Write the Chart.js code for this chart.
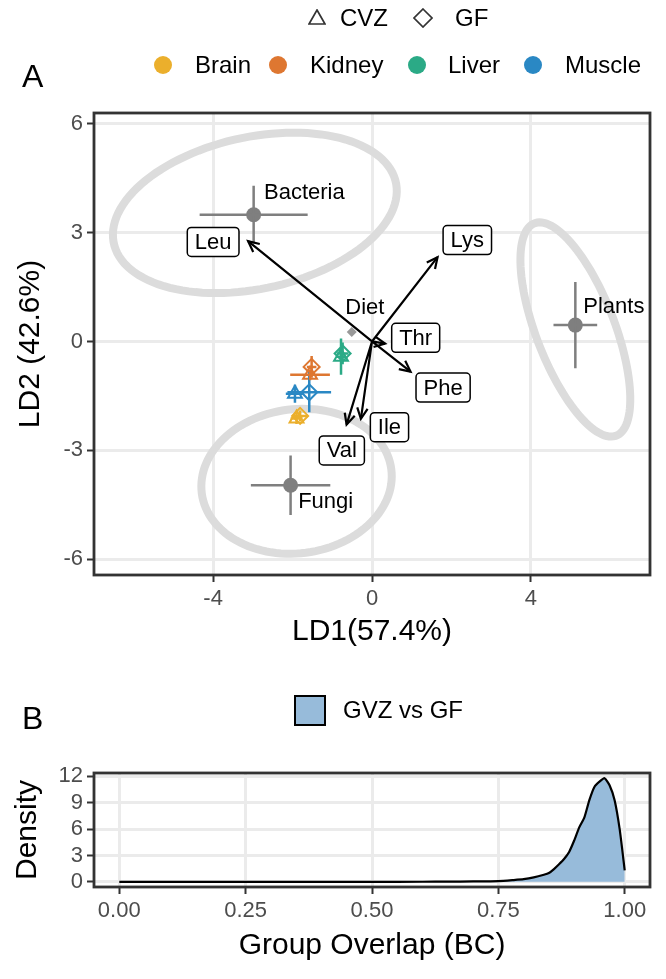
<!DOCTYPE html>
<html>
<head>
<meta charset="utf-8">
<script src="https://cdn.jsdelivr.net/npm/chart.js@4.4.1/dist/chart.umd.min.js"></script>
<style>
  html, body { margin: 0; padding: 0; background: #fff; }
  body { width: 666px; height: 979px; position: relative; overflow: hidden; font-family: 'Liberation Sans', Arial, sans-serif; }
  canvas { position: absolute; left: 0; }
  #chartA { top: 0; }
  #chartB { top: 660px; }
  .lbl { position: absolute; font-size: 24px; line-height: 24px; color: #000; white-space: nowrap; }
  .panel { position: absolute; font-size: 32px; line-height: 32px; color: #000; }
  .dot { position: absolute; width: 18px; height: 18px; border-radius: 50%; }
  svg { position: absolute; }
</style>
</head>
<body>
<canvas id="chartA" width="666" height="660"></canvas>
<canvas id="chartB" width="666" height="319"></canvas>

<!-- legende pannello A -->
<svg style="left:308px; top:9px" width="18" height="16"><polygon points="9,1 17,15 1,15" fill="none" stroke="#333" stroke-width="1.7"/></svg>
<div class="lbl" style="left:340px; top:6px">CVZ</div>
<svg style="left:413px; top:8px" width="20" height="20"><polygon points="10,1 19,10 10,19 1,10" fill="none" stroke="#333" stroke-width="1.7"/></svg>
<div class="lbl" style="left:455px; top:6px">GF</div>

<div class="dot" style="left:154px; top:56px; background:#EBAF2C"></div>
<div class="lbl" style="left:195px; top:53px">Brain</div>
<div class="dot" style="left:269px; top:56px; background:#DE7731"></div>
<div class="lbl" style="left:310px; top:53px">Kidney</div>
<div class="dot" style="left:408px; top:56px; background:#2BAA86"></div>
<div class="lbl" style="left:448px; top:53px">Liver</div>
<div class="dot" style="left:524px; top:56px; background:#2A88C4"></div>
<div class="lbl" style="left:565px; top:53px">Muscle</div>

<div class="panel" style="left:22px; top:60px">A</div>
<div class="panel" style="left:22px; top:702px">B</div>

<!-- legenda pannello B -->
<div style="position:absolute; left:294px; top:695px; width:28px; height:27px; background:#97BBDA; border:2px solid #000;"></div>
<div class="lbl" style="left:343px; top:698px">GVZ vs GF</div>

<script>
// ---- dati pannello A (LDA) ----
const ld1Ticks = [-4, 0, 4];
const ld2Ticks = [-6, -3, 0, 3, 6];

// medie dei gruppi di dieta con barre d'errore
const dietNames = ['Bacteria', 'Fungi', 'Plants'];
const dietX = [-2.98, -2.05, 5.12];
const dietY = [3.49, -3.96, 0.45];
const dietXErr = [1.36, 1.0, 0.55];
const dietYErr = [0.8, 0.82, 1.19];
const dietLabelX = [-2.72, -1.86, 5.32];
const dietLabelY = [4.09, -4.42, 0.95];

// ellissi di confidenza (centro, semiassi, rotazione in gradi)
const ellCx = [-2.95, -1.90, 5.12];
const ellCy = [3.54, -3.85, 0.33];
const ellA = [3.65, 2.41, 3.1];
const ellB = [2.08, 1.98, 1.0];
const ellAngle = [14.3, 10.4, -71];

// piccolo centroide "Diet"
const centroidX = [-0.51];
const centroidY = [0.26];
const centroidLabelX = [-0.18];
const centroidLabelY = [0.92];

// vettori degli amminoacidi
const aaNames = ['Leu', 'Lys', 'Thr', 'Phe', 'Ile', 'Val'];
const aaX = [-3.12, 1.65, 0.33, 0.97, -0.28, -0.64];
const aaY = [2.76, 2.32, -0.06, -0.83, -2.13, -2.29];
const aaLabelX = [-4.0, 2.40, 1.10, 1.79, 0.44, -0.76];
const aaLabelY = [2.74, 2.79, 0.10, -1.27, -2.36, -3.0];

// tessuti: CVZ (triangolo) e GF (rombo)
const tissues = ['Brain', 'Kidney', 'Liver', 'Muscle'];
const cvzX = [-1.90, -1.56, -0.78, -1.94];
const cvzY = [-2.12, -0.92, -0.42, -1.44];
const cvzXErr = [0.15, 0.5, 0.12, 0.23];
const cvzYErr = [0.15, 0.15, 0.5, 0.25];
const gfX = [-1.81, -1.52, -0.74, -1.58];
const gfY = [-2.05, -0.70, -0.33, -1.40];
const gfXErr = [0.2, 0.12, 0.15, 0.55];
const gfYErr = [0.15, 0.3, 0.3, 0.55];

// ---- dati pannello B (densita') ----
const bcTicks = [0, 0.25, 0.5, 0.75, 1];
const densTicks = [0, 3, 6, 9, 12];
const densX = [0, 0.1, 0.2, 0.3, 0.4, 0.5, 0.6, 0.65, 0.7, 0.75, 0.78, 0.8, 0.82, 0.84, 0.85, 0.86, 0.87, 0.88, 0.89, 0.9, 0.91, 0.92, 0.93, 0.94, 0.95, 0.96, 0.97, 0.98, 0.99, 1.0];
const densY = [0, 0, 0, 0, 0, 0, 0.01, 0.02, 0.04, 0.08, 0.2, 0.3, 0.5, 0.8, 1.0, 1.45, 2.0, 2.6, 3.4, 4.7, 6.2, 7.3, 9.3, 10.8, 11.4, 11.8, 11.0, 9.3, 6.0, 1.3];

// ---- stile ----
const FONT = "'Liberation Sans', Arial, sans-serif";
const tissueColors = ['#EBAF2C', '#DE7731', '#2BAA86', '#2A88C4'];
const meanGrey = '#7F7F7F';

// segmenti delle barre d'errore, separati da null
function errSegments(xs, ys, xe, ye, idx) {
  const out = [];
  idx.forEach(i => {
    out.push({ x: xs[i] - xe[i], y: ys[i] }, { x: xs[i] + xe[i], y: ys[i] }, { x: xs[i], y: null });
    out.push({ x: xs[i], y: ys[i] - ye[i] }, { x: xs[i], y: ys[i] + ye[i] }, { x: xs[i], y: null });
  });
  return out;
}

const datasetsA = [];
// barre d'errore delle diete
datasetsA.push({
  data: errSegments(dietX, dietY, dietXErr, dietYErr, dietX.map((_, i) => i)),
  showLine: true, spanGaps: false, borderColor: meanGrey, borderWidth: 2.5, pointRadius: 0
});
// barre d'errore dei tessuti
tissues.forEach((t, i) => {
  const segs = errSegments(cvzX, cvzY, cvzXErr, cvzYErr, [i]).concat(errSegments(gfX, gfY, gfXErr, gfYErr, [i]));
  datasetsA.push({ data: segs, showLine: true, spanGaps: false, borderColor: tissueColors[i], borderWidth: 2.5, pointRadius: 0 });
});
// vettori
const arrowSegs = [];
aaX.forEach((v, i) => { arrowSegs.push({ x: 0, y: 0 }, { x: v, y: aaY[i] }, { x: 0, y: null }); });
datasetsA.push({ data: arrowSegs, showLine: true, spanGaps: false, borderColor: '#000', borderWidth: 2.2, pointRadius: 0 });
// punti
datasetsA.push({
  data: cvzX.map((v, i) => ({ x: v, y: cvzY[i] })),
  pointStyle: 'triangle', pointRadius: 8, pointBorderWidth: 2,
  pointBorderColor: tissueColors, pointBackgroundColor: 'rgba(0,0,0,0)'
});
datasetsA.push({
  data: gfX.map((v, i) => ({ x: v, y: gfY[i] })),
  pointStyle: 'rectRot', pointRadius: 8, pointBorderWidth: 2,
  pointBorderColor: tissueColors, pointBackgroundColor: 'rgba(0,0,0,0)'
});
datasetsA.push({
  data: dietX.map((v, i) => ({ x: v, y: dietY[i] })),
  pointStyle: 'circle', pointRadius: 7.5, pointBorderWidth: 0, pointBackgroundColor: meanGrey
});
datasetsA.push({
  data: centroidX.map((v, i) => ({ x: v, y: centroidY[i] })),
  pointStyle: 'rectRot', pointRadius: 5, pointBorderWidth: 0, pointBackgroundColor: '#999'
});

const ellipsePlugin = {
  id: 'ellipses',
  beforeDatasetsDraw(chart) {
    const { ctx, chartArea: a, scales: { x, y } } = chart;
    ctx.save();
    ctx.beginPath();
    ctx.rect(a.left, a.top, a.right - a.left, a.bottom - a.top);
    ctx.clip();
    ctx.strokeStyle = '#DCDCDC';
    ctx.lineWidth = 8;
    ellCx.forEach((cx, i) => {
      const t = ellAngle[i] * Math.PI / 180;
      ctx.beginPath();
      for (let k = 0; k <= 120; k++) {
        const u = k / 120 * 2 * Math.PI;
        const dx = ellA[i] * Math.cos(u), dy = ellB[i] * Math.sin(u);
        const px = x.getPixelForValue(cx + dx * Math.cos(t) - dy * Math.sin(t));
        const py = y.getPixelForValue(ellCy[i] + dx * Math.sin(t) + dy * Math.cos(t));
        if (k) ctx.lineTo(px, py); else ctx.moveTo(px, py);
      }
      ctx.closePath();
      ctx.stroke();
    });
    ctx.restore();
  }
};

const labelPlugin = {
  id: 'labelsA',
  afterDatasetsDraw(chart) {
    const { ctx, scales: { x, y } } = chart;
    ctx.save();
    // punte delle frecce
    ctx.strokeStyle = '#000';
    ctx.lineWidth = 2.2;
    const x0 = x.getPixelForValue(0), y0 = y.getPixelForValue(0);
    aaX.forEach((v, i) => {
      const x1 = x.getPixelForValue(v), y1 = y.getPixelForValue(aaY[i]);
      const ang = Math.atan2(y1 - y0, x1 - x0), L = 12;
      ctx.beginPath();
      ctx.moveTo(x1 - L * Math.cos(ang - 0.45), y1 - L * Math.sin(ang - 0.45));
      ctx.lineTo(x1, y1);
      ctx.lineTo(x1 - L * Math.cos(ang + 0.45), y1 - L * Math.sin(ang + 0.45));
      ctx.stroke();
    });
    // etichette delle diete
    ctx.font = '22px ' + FONT;
    ctx.fillStyle = '#000';
    ctx.textBaseline = 'middle';
    ctx.textAlign = 'left';
    dietNames.forEach((n, i) => {
      ctx.fillText(n, x.getPixelForValue(dietLabelX[i]), y.getPixelForValue(dietLabelY[i]));
    });
    ctx.textAlign = 'center';
    ctx.fillText('Diet', x.getPixelForValue(centroidLabelX[0]), y.getPixelForValue(centroidLabelY[0]));
    // etichette con riquadro
    aaNames.forEach((n, i) => {
      const cx = x.getPixelForValue(aaLabelX[i]), cy = y.getPixelForValue(aaLabelY[i]);
      const w = ctx.measureText(n).width + 15, h = 29;
      ctx.beginPath();
      ctx.roundRect(cx - w / 2, cy - h / 2, w, h, 4);
      ctx.fillStyle = '#fff';
      ctx.fill();
      ctx.lineWidth = 1.5;
      ctx.strokeStyle = '#000';
      ctx.stroke();
      ctx.fillStyle = '#000';
      ctx.fillText(n, cx, cy + 1);
    });
    ctx.restore();
  }
};

const framePlugin = {
  id: 'frame',
  afterDraw(chart) {
    const { ctx, chartArea: a } = chart;
    ctx.save();
    ctx.strokeStyle = '#333';
    ctx.lineWidth = 2.8;
    ctx.strokeRect(a.left, a.top, a.right - a.left, a.bottom - a.top);
    ctx.restore();
  }
};

function axisOpts(min, max, ticks, fmt, title, fit, titlePad) {
  return {
    type: 'linear', min: min, max: max,
    afterBuildTicks: s => { s.ticks = ticks.map(v => ({ value: v })); },
    afterFit: fit,
    grid: { color: '#EBEBEB', lineWidth: 3, tickColor: '#333', tickLength: 7, tickWidth: 2 },
    border: { display: false },
    ticks: { color: '#4D4D4D', font: { size: 22, family: FONT }, padding: 4, maxRotation: 0, autoSkip: false, callback: fmt },
    title: { display: true, text: title, color: '#000', font: { size: 30, family: FONT }, padding: titlePad }
  };
}

new Chart(document.getElementById('chartA'), {
  type: 'scatter',
  data: { datasets: datasetsA },
  options: {
    responsive: false,
    animation: false,
    layout: { padding: { top: 113, right: 16, left: 0, bottom: 0 } },
    plugins: { legend: { display: false }, tooltip: { enabled: false } },
    scales: {
      x: axisOpts(-7, 7, ld1Ticks, v => String(v), 'LD1(57.4%)', s => { s.height = 85; }, { top: 0, bottom: 10 }),
      y: axisOpts(-6.43, 6.29, ld2Ticks, v => String(v), 'LD2 (42.6%)', s => { s.width = 94; }, { top: 13, bottom: 0 })
    }
  },
  plugins: [ellipsePlugin, labelPlugin, framePlugin]
});

new Chart(document.getElementById('chartB'), {
  type: 'line',
  data: {
    datasets: [{
      data: densX.map((v, i) => ({ x: v, y: densY[i] })),
      borderColor: '#000', borderWidth: 2.2, backgroundColor: '#97BBDA',
      fill: 'origin', pointRadius: 0, tension: 0.2
    }]
  },
  options: {
    responsive: false,
    animation: false,
    layout: { padding: { top: 113, right: 16, left: 0, bottom: 0 } },
    plugins: { legend: { display: false }, tooltip: { enabled: false } },
    scales: {
      x: axisOpts(-0.05, 1.05, bcTicks, v => v.toFixed(2), 'Group Overlap (BC)', s => { s.height = 92; }, { top: 0, bottom: 15 }),
      y: axisOpts(-0.59, 12.39, densTicks, v => String(v), 'Density', s => { s.width = 94; }, { top: 10, bottom: 0 })
    }
  },
  plugins: [framePlugin]
});
</script>
</body>
</html>
